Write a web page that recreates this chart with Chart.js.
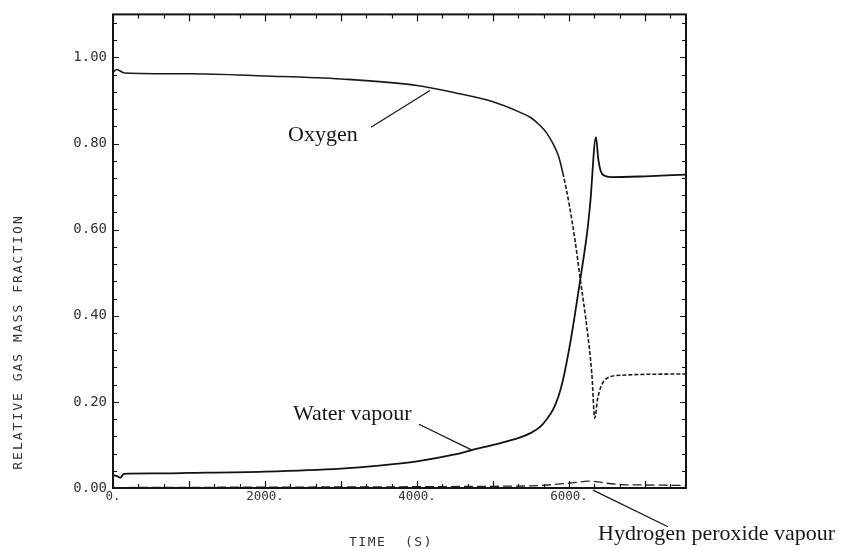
<!DOCTYPE html>
<html><head><meta charset="utf-8">
<script src="https://cdn.jsdelivr.net/npm/chart.js@4.4.1/dist/chart.umd.min.js"></script>
<style>html,body{margin:0;padding:0;background:#fff;}#wrap{width:844px;height:550px;position:relative;}</style>
</head><body><div id="wrap"><canvas id="c" width="844" height="550"></canvas></div>
<script>
// ---- data ----
const timeWater = [0, 60, 100, 140, 500, 1000, 2000, 3000, 3500, 4000, 4500, 4700, 5000, 5350, 5500, 5620, 5700, 5790, 5860, 5920, 6010, 6080, 6145, 6240, 6280, 6355, 6385, 6420, 6470, 6550, 7000, 7540];
const waterVapour = [0.030, 0.027, 0.024, 0.033, 0.034, 0.035, 0.038, 0.045, 0.052, 0.062, 0.078, 0.087, 0.100, 0.117, 0.128, 0.142, 0.158, 0.182, 0.212, 0.250, 0.330, 0.405, 0.480, 0.595, 0.662, 0.815, 0.765, 0.735, 0.725, 0.722, 0.724, 0.728];

const timeOxygen = [0, 50, 150, 1000, 2000, 3000, 4000, 4500, 5000, 5350, 5500, 5620, 5700, 5790, 5860, 5920, 6010, 6080, 6145, 6240, 6300, 6340, 6375, 6420, 6500, 6700, 7540];
const oxygen = [0.966, 0.972, 0.964, 0.962, 0.957, 0.950, 0.935, 0.918, 0.897, 0.873, 0.860, 0.842, 0.826, 0.800, 0.772, 0.731, 0.652, 0.575, 0.490, 0.367, 0.267, 0.162, 0.205, 0.235, 0.255, 0.262, 0.265];

const timePeroxide = [0, 2000, 4000, 5000, 5500, 5800, 6100, 6250, 6350, 6500, 6700, 7000, 7540];
const peroxideVapour = [0.001, 0.002, 0.003, 0.004, 0.005, 0.008, 0.013, 0.016, 0.015, 0.011, 0.008, 0.007, 0.006];

const xMin = 0, xMax = 7540, xMinorStep = 1000 / 3, xLabelEvery = 2000, xMajorEvery = 1000;
const yMin = 0, yMax = 1.1, yMinorStep = 0.04, yLabelEvery = 0.2, yLabelMax = 1.0;
const xTitle = 'TIME  (S)';
const yTitle = 'RELATIVE GAS MASS FRACTION';
const oxygenDashFrom = 5920;

// annotation texts with anchor points in data units
const notes = [
  { text: 'Oxygen', label: [2303, 0.807], lineFrom: [3395, 0.838], lineTo: [4171, 0.923] },
  { text: 'Water vapour', label: [2368, 0.158], lineFrom: [4026, 0.148], lineTo: [4724, 0.088] },
  { text: 'Hydrogen peroxide vapour', label: [6382, -0.121], lineFrom: [6316, -0.005], lineTo: [7303, -0.090] }
];

const pts = (xs, ys) => xs.map((t, i) => ({ x: t, y: ys[i] }));
const isMult = (v, m) => Math.abs(v / m - Math.round(v / m)) < 1e-6;

const framePlugin = {
  id: 'frame',
  afterDraw(chart) {
    const { ctx, chartArea: a, scales: { x, y } } = chart;
    ctx.save();
    ctx.strokeStyle = '#151515';
    ctx.lineCap = 'butt';
    // inward tick marks on all four sides
    ctx.lineWidth = 1.2;
    ctx.beginPath();
    x.ticks.forEach(t => {
      const px = Math.round(x.getPixelForValue(t.value)) + 0.5;
      const L = isMult(t.value, xMajorEvery) ? 7 : 4;
      ctx.moveTo(px, a.bottom); ctx.lineTo(px, a.bottom - L);
      ctx.moveTo(px, a.top); ctx.lineTo(px, a.top + L);
    });
    y.ticks.forEach(t => {
      const py = Math.round(y.getPixelForValue(t.value)) + 0.5;
      const L = isMult(t.value, yLabelEvery) ? 6 : 4;
      ctx.moveTo(a.left, py); ctx.lineTo(a.left + L, py);
      ctx.moveTo(a.right, py); ctx.lineTo(a.right - L, py);
    });
    ctx.stroke();
    // frame
    ctx.lineWidth = 2;
    ctx.strokeRect(a.left, a.top, a.right - a.left, a.bottom - a.top);

    // axis titles
    ctx.fillStyle = '#333';
    ctx.font = '13px "DejaVu Sans Mono"';
    try { ctx.letterSpacing = '1.5px'; } catch (e) {}
    ctx.textAlign = 'center';
    ctx.textBaseline = 'middle';
    ctx.fillText(xTitle, 391, 543);
    try { ctx.letterSpacing = '2px'; } catch (e) {}
    ctx.save();
    ctx.translate(19, 342);
    ctx.rotate(-Math.PI / 2);
    ctx.fillText(yTitle, 0, 0);
    ctx.restore();
    try { ctx.letterSpacing = '0px'; } catch (e) {}

    // annotations
    ctx.font = '22px "Liberation Serif"';
    ctx.fillStyle = '#161616';
    ctx.textAlign = 'left';
    ctx.textBaseline = 'alphabetic';
    ctx.lineWidth = 1.2;
    notes.forEach(n => {
      ctx.fillText(n.text, x.getPixelForValue(n.label[0]), y.getPixelForValue(n.label[1]));
      ctx.beginPath();
      ctx.moveTo(x.getPixelForValue(n.lineFrom[0]), y.getPixelForValue(n.lineFrom[1]));
      ctx.lineTo(x.getPixelForValue(n.lineTo[0]), y.getPixelForValue(n.lineTo[1]));
      ctx.stroke();
    });
    ctx.restore();
  }
};

new Chart(document.getElementById('c'), {
  type: 'line',
  data: {
    datasets: [
      {
        label: 'Oxygen', data: pts(timeOxygen, oxygen),
        borderColor: '#1a1a1a', borderWidth: 1.6, pointRadius: 0,
        cubicInterpolationMode: 'monotone',
        segment: { borderDash: c => c.p0.parsed.x >= oxygenDashFrom ? [4, 2] : undefined }
      },
      {
        label: 'Water vapour', data: pts(timeWater, waterVapour),
        borderColor: '#111', borderWidth: 1.8, pointRadius: 0,
        cubicInterpolationMode: 'monotone'
      },
      {
        label: 'Hydrogen peroxide vapour', data: pts(timePeroxide, peroxideVapour),
        borderColor: '#222', borderWidth: 1.3, pointRadius: 0, borderDash: [9, 4],
        cubicInterpolationMode: 'monotone'
      }
    ]
  },
  options: {
    responsive: false, animation: false, devicePixelRatio: 1,
    layout: { padding: { top: 14, right: 158, left: 0, bottom: 0 } },
    plugins: { legend: { display: false }, tooltip: { enabled: false } },
    scales: {
      x: {
        type: 'linear', min: xMin, max: xMax,
        grid: { display: false, drawTicks: false }, border: { display: false },
        afterFit: s => { s.height = 62; },
        ticks: {
          stepSize: xMinorStep, includeBounds: false, autoSkip: false, maxRotation: 0,
          padding: 1, color: '#333', font: { family: 'DejaVu Sans Mono', size: 12.5 },
          callback: v => isMult(v, xLabelEvery) ? Math.round(v) + '.' : ''
        }
      },
      y: {
        type: 'linear', min: yMin, max: yMax,
        grid: { display: false, drawTicks: false }, border: { display: false },
        afterFit: s => { s.width = 113; },
        ticks: {
          stepSize: yMinorStep, includeBounds: false, autoSkip: false,
          padding: 6, color: '#333', font: { family: 'DejaVu Sans Mono', size: 14 },
          callback: v => (isMult(v, yLabelEvery) && v <= yLabelMax + 1e-9) ? v.toFixed(2) : ''
        }
      }
    }
  },
  plugins: [framePlugin]
});
</script></body></html>
